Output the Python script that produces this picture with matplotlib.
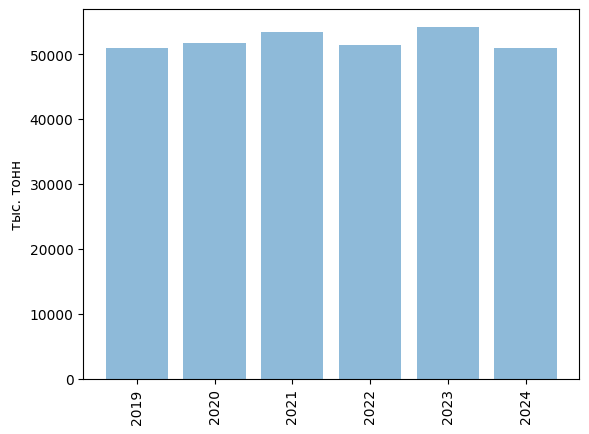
import matplotlib
matplotlib.use("Agg")
import matplotlib.pyplot as plt

years = ["2019", "2020", "2021", "2022", "2023", "2024"]
values = [51000, 51770, 53460, 51460, 54230, 51000]

fig, ax = plt.subplots(figsize=(6.4, 4.8), dpi=100)
ax.bar(years, values, alpha=0.5)
ax.set_ylabel("тыс. тонн")
plt.xticks(rotation=90)

plt.savefig("out.png", dpi=100, bbox_inches="tight")
plt.close()
